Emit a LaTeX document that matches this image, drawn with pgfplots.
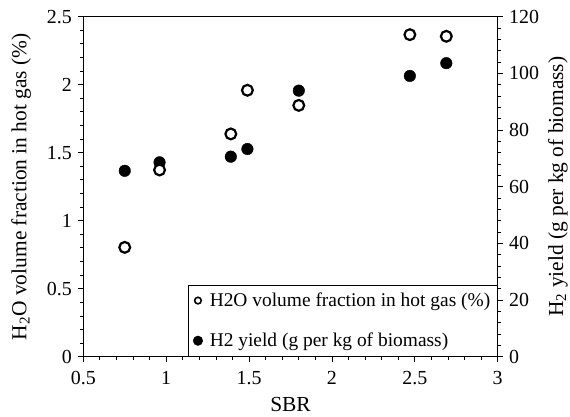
\documentclass[border=0pt]{standalone}
\usepackage{fontspec}
\setmainfont{Liberation Serif}
\usepackage{pgfplots}
\pgfplotsset{compat=1.18}
\begin{document}
\begin{tikzpicture}
\pgfplotsset{
  every axis/.append style={
    width=414.4bp, height=340bp, scale only axis,
    xmin=0.5, xmax=3,
    axis line style={line width=1.2bp},
    every tick/.style={black, line width=0.8bp},
    major tick length=5bp, minor tick length=3bp,
    tick align=outside,
    ticklabel style={font=\fontsize{20}{20}\selectfont},
    label style={font=\fontsize{21.5}{24}\selectfont},
    /pgf/number format/assume math mode=true,
  }
}
% right axis: H2 yield (drawn first so open circles lie on top)
\begin{axis}[
  axis x line=none, axis y line*=right,
  ymin=0, ymax=120,
  ytick={0,20,40,60,80,100,120}, minor y tick num=4,
  yticklabel style={xshift=3bp},
  ylabel={H\textsubscript{2} yield (g per kg of biomass)},
  ylabel shift=2bp,
]
\addplot[only marks, mark=*, mark size=5.8bp, mark options={fill=black, draw=black, line width=0.4bp}]
  coordinates {(0.75,65.6) (0.96,68.6) (1.39,70.6) (1.49,73.3) (1.8,93.9) (2.47,99.1) (2.69,103.6)};
\end{axis}
% left axis: H2O volume fraction
\begin{axis}[name=ax,
  ymin=0, ymax=2.5,
  xtick={0.5,1,1.5,2,2.5,3}, minor x tick num=4,
  ytick={0,0.5,1,1.5,2,2.5}, minor y tick num=4,
  xtick pos=bottom, ytick pos=left,
  xticklabel style={yshift=-6bp},
  yticklabel style={xshift=-3bp},
  xlabel={SBR}, xlabel shift=6bp,
  ylabel={H\textsubscript{2}O volume fraction in hot gas (\%)},
  ylabel shift=9bp,
  legend style={at={(1,0)}, anchor=south east, draw=black, line width=0.8bp,
    font=\fontsize{19.5}{19.5}\selectfont, row sep=21bp, inner xsep=5bp, inner ysep=6bp,
    /tikz/every odd column/.style={column sep=5bp}},
  legend image code/.code={\draw[mark repeat=2,mark phase=2,#1] plot coordinates {(0bp,0bp)(6bp,0bp)(12bp,0bp)};},
  legend cell align=left,
]
\addplot[forget plot, only marks, mark=*, mark size=5.4bp, mark options={fill=white, draw=black, line width=2.2bp}]
  coordinates {(0.75,0.804) (0.96,1.373) (1.39,1.638) (1.49,1.959) (1.8,1.848) (2.47,2.368) (2.69,2.356)};
\addlegendimage{only marks, mark=*, mark size=3.3bp, mark options={fill=white, draw=black, line width=1.6bp}}
\addlegendentry{H2O volume fraction in hot gas (\%)}
\addlegendimage{only marks, mark=*, mark size=4.8bp, mark options={fill=black, draw=black, line width=0.4bp}}
\addlegendentry{H2 yield (g per kg of biomass)}
\end{axis}
\pgfresetboundingbox
\path ([shift={(-83.3bp,-60.3bp)}]ax.south west) rectangle ([shift={(72.3bp,16.7bp)}]ax.north east);
\end{tikzpicture}
\end{document}
